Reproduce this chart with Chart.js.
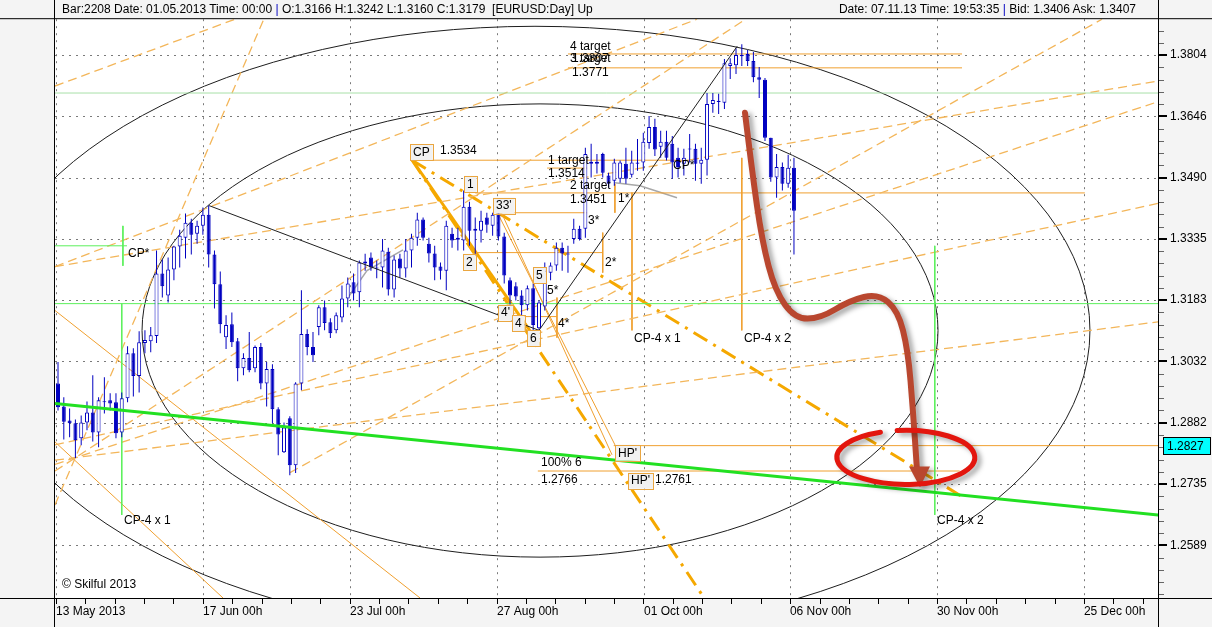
<!DOCTYPE html>
<html><head><meta charset="utf-8">
<script src="https://cdn.jsdelivr.net/npm/chart.js@4.4.1/dist/chart.umd.min.js"></script>
<style>
html,body{margin:0;padding:0;background:#f4f4f4;overflow:hidden}
#wrap{position:relative;width:1212px;height:627px}
canvas{position:absolute;left:0;top:0}
.t{position:absolute;font:12px "Liberation Sans",Arial,sans-serif;color:#000;white-space:nowrap;line-height:18px}
</style></head><body>
<div id="wrap">
<canvas id="c" width="1212" height="627"></canvas>
<div class="t" style="left:62px;top:0">Bar:2208 Date: 01.05.2013 Time: 00:00 <span style="color:#0000c0">|</span> O:1.3166 H:1.3242 L:1.3160 C:1.3179&nbsp;&nbsp;[EURUSD:Day] Up</div>
<div class="t" style="right:76px;top:0">Date: 07.11.13 Time: 19:53:35 <span style="color:#0000c0">|</span> Bid: 1.3406 Ask: 1.3407</div>
<div class="t" style="left:62px;top:575px">© Skilful 2013</div>
</div>
<script>
// ---------- data ----------
const xTickLabels = ['13 May 2013','17 Jun 00h','23 Jul 00h','27 Aug 00h','01 Oct 00h','06 Nov 00h','30 Nov 00h','25 Dec 00h'];
const xTickPos = [-0.35, 25.02, 50.39, 75.76, 101.12, 126.3, 151.67, 177.04];
const yTicks = [1.2589,1.2735,1.2882,1.3032,1.3183,1.3335,1.3490,1.3646,1.3804];

const open=[1.2978,1.2922,1.2888,1.2881,1.2845,1.2883,1.2907,1.2859,1.2934,1.2937,
1.2932,1.2859,1.2942,1.3052,1.2996,1.3077,1.3081,1.3094,1.3249,1.3194,
1.3259,1.3316,1.3338,1.3376,1.3348,1.3368,1.3396,1.3296,1.3222,1.3091,
1.3123,1.3081,1.3015,1.3040,1.3015,1.3067,1.2978,1.3013,1.2915,1.2811,
1.2893,1.2780,1.2978,1.3099,1.3067,1.3116,1.3165,1.3128,1.3108,1.3140,
1.3187,1.3227,1.3202,1.3279,1.3289,1.3264,1.3264,1.3303,1.3209,1.3286,
1.3261,1.3306,1.3338,1.3384,1.3323,1.3299,1.3266,1.3256,1.3348,1.3338,
1.3331,1.3416,1.3356,1.3356,1.3389,1.3368,1.3399,1.3341,1.3232,1.3217,
1.3194,1.3170,1.3212,1.3113,1.3167,1.3251,1.3269,1.3313,1.3299,1.3335,
1.3361,1.3361,1.3530,1.3530,1.3550,1.3495,1.3482,1.3487,1.3525,1.3497,
1.3528,1.3528,1.3578,1.3619,1.3568,1.3581,1.3576,1.3540,1.3525,1.3563,
1.3563,1.3525,1.3535,1.3678,1.3683,1.3681,1.3776,1.3778,1.3804,1.3807,
1.3789,1.3747,1.3740,1.3591,1.3490,1.3517,1.3474,1.3515];
const high=[1.3030,1.2944,1.2917,1.2890,1.2900,1.2934,1.2998,1.2944,1.2993,1.2954,
1.2954,1.2956,1.3069,1.3064,1.3106,1.3108,1.3116,1.3306,1.3284,1.3289,
1.3318,1.3358,1.3399,1.3386,1.3381,1.3414,1.3419,1.3306,1.3254,1.3145,
1.3152,1.3089,1.3052,1.3104,1.3071,1.3077,1.3030,1.3025,1.2920,1.2883,
1.2898,1.2981,1.3207,1.3111,1.3104,1.3170,1.3182,1.3138,1.3152,1.3219,
1.3239,1.3249,1.3281,1.3298,1.3301,1.3281,1.3335,1.3313,1.3294,1.3298,
1.3335,1.3348,1.3401,1.3389,1.3338,1.3318,1.3276,1.3381,1.3363,1.3363,
1.3457,1.3429,1.3389,1.3406,1.3401,1.3401,1.3401,1.3351,1.3239,1.3227,
1.3207,1.3219,1.3224,1.3182,1.3276,1.3276,1.3326,1.3326,1.3318,1.3386,
1.3368,1.3566,1.3576,1.3550,1.3553,1.3502,1.3538,1.3533,1.3566,1.3558,
1.3588,1.3604,1.3647,1.3640,1.3609,1.3609,1.3596,1.3566,1.3563,1.3601,
1.3576,1.3566,1.3706,1.3706,1.3704,1.3794,1.3796,1.3822,1.3832,1.3817,
1.3812,1.3773,1.3745,1.3591,1.3550,1.3528,1.3548,1.3540];
const low=[1.2912,1.2842,1.2847,1.2797,1.2828,1.2864,1.2837,1.2823,1.2905,1.2912,
1.2845,1.2847,1.2932,1.2946,1.2956,1.3052,1.3054,1.3077,1.3189,1.3177,
1.3232,1.3264,1.3286,1.3296,1.3323,1.3346,1.3264,1.3162,1.3101,1.3062,
1.3067,1.2983,1.2998,1.3005,1.3005,1.2964,1.2922,1.2881,1.2804,1.2809,
1.2756,1.2761,1.2961,1.3047,1.3030,1.3096,1.3108,1.3089,1.3101,1.3128,
1.3165,1.3182,1.3165,1.3256,1.3256,1.3237,1.3214,1.3194,1.3189,1.3239,
1.3239,1.3264,1.3318,1.3331,1.3276,1.3232,1.3234,1.3207,1.3313,1.3306,
1.3306,1.3318,1.3294,1.3326,1.3351,1.3343,1.3331,1.3224,1.3165,1.3182,
1.3140,1.3157,1.3108,1.3108,1.3157,1.3232,1.3256,1.3256,1.3251,1.3323,
1.3331,1.3338,1.3490,1.3500,1.3490,1.3464,1.3469,1.3477,1.3474,1.3490,
1.3507,1.3507,1.3563,1.3545,1.3540,1.3533,1.3487,1.3490,1.3495,1.3528,
1.3482,1.3474,1.3495,1.3655,1.3652,1.3665,1.3742,1.3755,1.3776,1.3776,
1.3734,1.3693,1.3583,1.3479,1.3439,1.3457,1.3464,1.3296];
const close=[1.2920,1.2885,1.2881,1.2840,1.2883,1.2907,1.2859,1.2937,1.2932,1.2929,
1.2857,1.2942,1.3052,1.2996,1.3079,1.3084,1.3096,1.3249,1.3217,1.3259,
1.3316,1.3343,1.3376,1.3346,1.3368,1.3396,1.3296,1.3222,1.3123,1.3121,
1.3079,1.3015,1.3040,1.3010,1.3067,1.2978,1.3013,1.2915,1.2854,1.2871,
1.2780,1.2978,1.3099,1.3067,1.3047,1.3165,1.3126,1.3101,1.3145,1.3187,
1.3224,1.3199,1.3276,1.3274,1.3264,1.3261,1.3306,1.3209,1.3284,1.3261,
1.3306,1.3338,1.3384,1.3338,1.3299,1.3264,1.3256,1.3368,1.3331,1.3333,
1.3416,1.3356,1.3361,1.3381,1.3371,1.3396,1.3341,1.3244,1.3194,1.3192,
1.3170,1.3212,1.3121,1.3177,1.3256,1.3269,1.3313,1.3299,1.3296,1.3361,
1.3335,1.3550,1.3525,1.3525,1.3502,1.3474,1.3528,1.3528,1.3487,1.3528,
1.3525,1.3581,1.3619,1.3561,1.3581,1.3540,1.3528,1.3517,1.3540,1.3561,
1.3525,1.3535,1.3678,1.3688,1.3686,1.3783,1.3783,1.3804,1.3801,1.3789,
1.3747,1.3740,1.3591,1.3490,1.3517,1.3474,1.3515,1.3406];

// drawing objects (x = bar number, y = price)
const cpLevel   = [{x:61.1,y:1.3534},{x:109.1,y:1.3534}];
const t1Level   = [{x:84.4,y:1.3514},{x:91.3,y:1.3514}];
const t2Level   = [{x:72.0,y:1.3451},{x:177.2,y:1.3451}];
const t3Level   = [{x:88.0,y:1.3771},{x:156.0,y:1.3771}];
const t4Level   = [{x:88.0,y:1.3807},{x:156.0,y:1.3807}];
const p33Level  = [{x:75.8,y:1.3401},{x:91.3,y:1.3401}];
const p2Level   = [{x:72.1,y:1.3301},{x:94.0,y:1.3301}];
const p4Level   = [{x:78.0,y:1.3142},{x:86.1,y:1.3142}];
const hpLevel   = [{x:95.9,y:1.2827},{x:189.9,y:1.2827}];
const p100Level = [{x:82.8,y:1.2766},{x:155.6,y:1.2766}];
const cp4x1V = [{x:99.05,y:1.3452},{x:99.05,y:1.3108}];
const cp4x2V = [{x:118.0,y:1.3540},{x:118.0,y:1.3108}];
const s1V = [{x:96.1,y:1.3474},{x:96.1,y:1.3401}];
const s2V = [{x:94.0,y:1.3351},{x:94.0,y:1.3251}];
const s4V = [{x:86.1,y:1.3189},{x:86.1,y:1.3090}];
const greenTrend = [{x:-0.52,y:1.2929},{x:189.9,y:1.2661}];
const greenLevel = [{x:-0.52,y:1.3174},{x:189.9,y:1.3174}];
const lightGreenLevel = [{x:-0.52,y:1.3706},{x:189.9,y:1.3706}];
const greenShort = [{x:-0.52,y:1.3318},{x:11.9,y:1.3318}];
const greenV1 = [{x:11.2,y:1.3368},{x:11.2,y:1.3268}];
const greenV2 = [{x:11.0,y:1.3174},{x:11.0,y:1.2661}];
const greenV3 = [{x:151.3,y:1.3318},{x:151.3,y:1.2661}];
const blackWave = [{x:26.06,y:1.3419},{x:83.0,y:1.3108},{x:117.2,y:1.3827}];
const grayArcA = [{x:50.04,y:1.3189},{x:53.32,y:1.3256},{x:59.53,y:1.3308}];
const grayArcB = [{x:96.12,y:1.3477},{x:100.43,y:1.3469},{x:106.82,y:1.3439}];
const cpFanA = [{x:61.1,y:1.3534},{x:156.2,y:1.2703}];
const cpFanB = [{x:61.1,y:1.3534},{x:111.5,y:1.2465}];
const cpTo6 = [{x:61.26,y:1.3532},{x:83.18,y:1.3071}];
const thinA = [{x:-0.52,y:1.3157},{x:62.47,y:1.2465}];
const thinB = [{x:-0.52,y:1.2836},{x:28.47,y:1.2465}];
const thinC = [{x:75.93,y:1.3398},{x:96.98,y:1.2805}];
const thinD = [{x:76.62,y:1.3398},{x:95.6,y:1.2805}];
const fan1 = [{x:-0.52,y:1.2792},{x:189.9,y:1.3129}];
const fan2 = [{x:-0.52,y:1.2782},{x:189.9,y:1.3684}];
const fan3 = [{x:-0.52,y:1.2766},{x:118.67,y:1.38975}];
const fan4 = [{x:-0.52,y:1.2685},{x:35.51,y:1.38975}];
const fan5 = [{x:-0.52,y:1.2829},{x:189.9,y:1.3425}];
const julyFan = [{x:40.03,y:1.2762},{x:180.16,y:1.38975}];
const dashA = [{x:-0.52,y:1.3266},{x:189.9,y:1.3737}];
const dashE = [{x:-0.52,y:1.3266},{x:110.27,y:1.38975}];
const dashD = [{x:-0.52,y:1.3724},{x:30.54,y:1.38975}];
const ellipses = [ // left bar, right bar, top price, bottom price
  {x0:14.5, x1:151.86, top:1.3678, bottom:1.2561},
  {x0:-13.46, x1:178.08, top:1.3879, bottom:1.2379}
];
const redRing = {x0:134.4, x1:158.2, top:1.2864, bottom:1.2734};
const arrowPath = [{x:118.55,y:1.3655},{x:119.76,y:1.3507},{x:121.48,y:1.3331},{x:123.73,y:1.3206},{x:127.18,y:1.3137},
  {x:131.49,y:1.3137},{x:136.67,y:1.3182},{x:141.5,y:1.3199},{x:144.95,y:1.3157},{x:146.68,y:1.3059},{x:147.54,y:1.2912},{x:148.23,y:1.2768}];
const arrowHead = [{x:146.85,y:1.2777},{x:148.75,y:1.2727},{x:150.47,y:1.2777}];
const boxLabels = [
  {x:61.26,y:1.3555,t:'CP'},{x:70.58,y:1.3474,t:'1'},{x:70.4,y:1.3278,t:'2'},{x:75.58,y:1.3419,t:"33'"},
  {x:82.49,y:1.3244,t:'5'},{x:76.45,y:1.3152,t:"4'"},{x:78.86,y:1.3125,t:'4'},{x:81.45,y:1.3088,t:'6'},
  {x:96.64,y:1.2810,t:"HP'"},{x:98.88,y:1.2743,t:"HP'"}
];
const textLabels = [
  {x:88.35,y:1.3827,t:'4 target'},{x:88.35,y:1.3794,t:'3 target'},{x:88.7,y:1.3794,t:'1.3807'},{x:88.7,y:1.3758,t:'1.3771'},
  {x:65.92,y:1.3558,t:'1.3534'},{x:84.56,y:1.3532,t:'1 target'},{x:84.56,y:1.3499,t:'1.3514'},
  {x:88.35,y:1.3469,t:'2 target'},{x:88.35,y:1.3434,t:'1.3451'},{x:96.64,y:1.3436,t:'1*'},{x:91.46,y:1.3381,t:'3*'},
  {x:94.39,y:1.3276,t:'2*'},{x:84.38,y:1.3206,t:'5*'},{x:86.28,y:1.3125,t:'4*'},
  {x:99.4,y:1.3088,t:'CP-4 x 1'},{x:118.38,y:1.3088,t:'CP-4 x 2'},{x:12.08,y:1.3298,t:'CP*'},{x:106.13,y:1.3520,t:'CP*'},
  {x:11.39,y:1.2648,t:'CP-4 x 1'},{x:151.68,y:1.2648,t:'CP-4 x 2'},
  {x:83.35,y:1.2786,t:'100% 6'},{x:83.35,y:1.2745,t:'1.2766'},{x:103.02,y:1.2745,t:'1.2761'}
];
const markerPrice = 1.2827;

// ---------- chart ----------
const idx = open.map((_, i) => i);
const BLUE = '#0000c0', OR = '#f0a030', DS = '#f3b65a';
function L(data, color, width, dash, order) {
  return {type:'line', data, borderColor:color, borderWidth:width, borderDash:dash||[], pointRadius:0,
          fill:false, tension:0, order:order===undefined?5:order};
}
const datasets = [
  {type:'bar', data: idx.map(i => ({x:i, y:[low[i], high[i]]})), backgroundColor:BLUE, borderWidth:0,
   maxBarThickness:1, grouped:false, order:1},
  {type:'bar', data: idx.map(i => ({x:i, y:[open[i], close[i]]})),
   backgroundColor: idx.map(i => close[i] >= open[i] ? '#ffffff' : BLUE), borderColor:BLUE, borderWidth:1,
   borderSkipped:false, maxBarThickness:4, grouped:false, minBarLength:1, order:0},
  L(lightGreenLevel,'#a8e0a8',1), L(greenLevel,'#5cf05c',1), L(greenShort,'#5cf05c',1),
  L(greenV1,'#5cf05c',1), L(greenV2,'#5cf05c',1), L(greenV3,'#5cf05c',1),
  L(fan1,DS,1.3,[9,5]), L(fan2,DS,1.3,[9,5]), L(fan3,DS,1.3,[9,5]), L(fan4,DS,1.3,[9,5]), L(fan5,DS,1.3,[9,5]),
  L(julyFan,DS,1.3,[9,5]), L(dashA,DS,1.3,[9,5]), L(dashE,DS,1.3,[9,5]), L(dashD,DS,1.3,[9,5]),
  L(thinA,OR,1), L(thinB,OR,1), L(thinC,OR,1), L(thinD,OR,1),
  L(cpLevel,OR,1), L(t1Level,OR,1), L(t2Level,OR,1), L(t3Level,OR,1), L(t4Level,OR,1),
  L(p33Level,OR,1), L(p2Level,OR,1), L(p4Level,OR,1), L(hpLevel,OR,1), L(p100Level,OR,1),
  L(cp4x1V,OR,1), L(cp4x2V,OR,1), L(s1V,OR,1), L(s2V,OR,1), L(s4V,OR,1),
  L(cpFanA,'#f5a800',3,[16,7,3,7]), L(cpFanB,'#f5a800',3,[16,7,3,7]), L(cpTo6,'#f5a800',3),
  L(grayArcA,'#a8a8a8',1.5), L(grayArcB,'#a8a8a8',1.5),
  L(blackWave,'#202020',1,[],-1),
  L(greenTrend,'#22e022',3,[],-2)
];

const overlay = {
  id:'overlay',
  beforeDraw(ch) {
    const {ctx, chartArea:a} = ch, xs = ch.scales.x, ys = ch.scales.y;
    ctx.save();
    ctx.fillStyle = '#f4f4f4'; ctx.fillRect(0,0,ch.width,ch.height);
    ctx.fillStyle = '#ffffff'; ctx.fillRect(a.left,a.top,a.right-a.left,a.bottom-a.top);
    ctx.strokeStyle = '#7a7a7a'; ctx.lineWidth = 1; ctx.setLineDash([2,5]);
    yTicks.forEach(v => { const y = Math.round(ys.getPixelForValue(v)) + 0.5;
      ctx.beginPath(); ctx.moveTo(a.left,y); ctx.lineTo(a.right,y); ctx.stroke(); });
    xTickPos.forEach(v => { const x = Math.round(xs.getPixelForValue(v)) + 0.5;
      ctx.beginPath(); ctx.moveTo(x,a.top); ctx.lineTo(x,a.bottom); ctx.stroke(); });
    ctx.restore();
  },
  beforeDatasetsDraw(ch) {
    const {ctx, chartArea:a} = ch, xs = ch.scales.x, ys = ch.scales.y;
    ctx.save();
    ctx.beginPath(); ctx.rect(a.left,a.top,a.right-a.left,a.bottom-a.top); ctx.clip();
    ctx.strokeStyle = '#1e1e1e'; ctx.lineWidth = 1;
    ellipses.forEach(e => {
      const l = xs.getPixelForValue(e.x0), r = xs.getPixelForValue(e.x1);
      const t = ys.getPixelForValue(e.top), b = ys.getPixelForValue(e.bottom);
      ctx.beginPath(); ctx.ellipse((l+r)/2,(t+b)/2,(r-l)/2,(b-t)/2,0,0,Math.PI*2); ctx.stroke();
    });
    ctx.restore();
  },
  afterDatasetsDraw(ch) {
    const {ctx, chartArea:a} = ch, xs = ch.scales.x, ys = ch.scales.y;
    const X = v => xs.getPixelForValue(v), Y = v => ys.getPixelForValue(v);
    ctx.save();
    ctx.beginPath(); ctx.rect(a.left,a.top,a.right-a.left,a.bottom-a.top); ctx.clip();
    ctx.font = '12px "Liberation Sans", Arial, sans-serif'; ctx.textBaseline = 'middle'; ctx.textAlign = 'left';
    textLabels.forEach(l => { ctx.fillStyle = '#000'; ctx.fillText(l.t, X(l.x), Y(l.y)); });
    boxLabels.forEach(l => {
      const x = X(l.x), y = Y(l.y), w = ctx.measureText(l.t).width;
      ctx.fillStyle = '#f1f1f1'; ctx.fillRect(x-3, y-8, w+6, 16);
      ctx.strokeStyle = '#eaa640'; ctx.lineWidth = 1; ctx.strokeRect(Math.round(x-3)+0.5, Math.round(y-8)+0.5, Math.round(w+6), 16);
      ctx.fillStyle = '#000'; ctx.fillText(l.t, x, y+0.5);
    });
    ctx.shadowColor = 'rgba(0,0,0,0.35)'; ctx.shadowBlur = 5; ctx.shadowOffsetX = 4; ctx.shadowOffsetY = 3;
    ctx.strokeStyle = '#b9472f'; ctx.lineWidth = 6; ctx.lineCap = 'round'; ctx.lineJoin = 'round';
    const pts = arrowPath.map(p => [X(p.x), Y(p.y)]);
    ctx.beginPath(); ctx.moveTo(pts[0][0], pts[0][1]);
    for (let i = 1; i < pts.length - 1; i++) {
      const mx = (pts[i][0]+pts[i+1][0])/2, my = (pts[i][1]+pts[i+1][1])/2;
      ctx.quadraticCurveTo(pts[i][0], pts[i][1], mx, my);
    }
    ctx.lineTo(pts[pts.length-1][0], pts[pts.length-1][1]); ctx.stroke();
    ctx.fillStyle = '#b9472f'; ctx.beginPath();
    arrowHead.forEach((p,i) => { const x = X(p.x), y = Y(p.y); i ? ctx.lineTo(x,y) : ctx.moveTo(x,y); });
    ctx.closePath(); ctx.fill();
    const l = X(redRing.x0), r = X(redRing.x1), t = Y(redRing.top), b = Y(redRing.bottom);
    ctx.strokeStyle = '#e3160e'; ctx.lineWidth = 5;
    ctx.beginPath(); ctx.ellipse((l+r)/2,(t+b)/2,(r-l)/2,(b-t)/2,0,Math.PI*1.46,Math.PI*1.38+Math.PI*2); ctx.stroke();
    ctx.restore();
  },
  afterDraw(ch) {
    const {ctx, chartArea:a} = ch, xs = ch.scales.x, ys = ch.scales.y;
    ctx.save();
    ctx.strokeStyle = '#000'; ctx.lineWidth = 1;
    ctx.beginPath();
    ctx.moveTo(0, a.top-0.5); ctx.lineTo(ch.width, a.top-0.5);
    ctx.moveTo(0, a.bottom+0.5); ctx.lineTo(ch.width, a.bottom+0.5);
    ctx.moveTo(a.left-0.5, 0); ctx.lineTo(a.left-0.5, ch.height);
    ctx.moveTo(a.right+0.5, 0); ctx.lineTo(a.right+0.5, ch.height);
    ctx.stroke();
    const yp = yTicks.map(v => ys.getPixelForValue(v));
    const ystep = (yp[0]-yp[yp.length-1]) / (yp.length-1) / 5;
    for (let y = yp[yp.length-1] - 5*ystep; y < a.bottom; y += ystep) {
      if (y < a.top) continue;
      const major = yp.some(p => Math.abs(p-y) < 0.5);
      ctx.fillStyle = major ? '#000' : '#666';
      ctx.fillRect(a.right+1, Math.round(y)-(major?1:0), major?8:5, major?2:1);
    }
    const xp = xTickPos.map(v => xs.getPixelForValue(v));
    const xstep = (xp[xp.length-1]-xp[0])/(xp.length-1)/5;
    ctx.fillStyle = '#000';
    for (let x = xp[0]; x < a.right; x += xstep) ctx.fillRect(Math.round(x), a.bottom+1, 1, 5);
    const my = ys.getPixelForValue(markerPrice);
    ctx.fillStyle = '#00ffff'; ctx.fillRect(a.right+5, Math.round(my)-9, 48, 18);
    ctx.strokeStyle = '#000'; ctx.strokeRect(a.right+5.5, Math.round(my)-8.5, 47, 17);
    ctx.fillStyle = '#000'; ctx.font = '12px "Liberation Sans", Arial, sans-serif';
    ctx.textBaseline = 'middle'; ctx.fillText(markerPrice.toFixed(4), a.right+9, Math.round(my)+0.5);
    ctx.restore();
  }
};

new Chart(document.getElementById('c'), {
  type:'bar',
  data:{datasets},
  options:{
    responsive:false, animation:false, devicePixelRatio:1,
    layout:{padding:{left:55, top:18, right:0, bottom:0}},
    plugins:{legend:{display:false}, tooltip:{enabled:false}},
    scales:{
      x:{type:'linear', position:'bottom', min:-0.52, max:189.82, offset:false, bounds:'data',
         grid:{display:false, drawTicks:false}, border:{display:false},
         afterBuildTicks: s => { s.ticks = xTickPos.map(v => ({value:v})); },
         afterFit: s => { s.height = 29; },
         ticks:{autoSkip:false, maxRotation:0, minRotation:0, align:'start', padding:6, color:'#000',
                font:{family:'"Liberation Sans", Arial, sans-serif', size:12},
                callback:(v,i) => xTickLabels[i]}},
      y:{type:'logarithmic', position:'right', min:1.24649, max:1.38975, bounds:'data',
         grid:{display:false, drawTicks:false}, border:{display:false},
         afterBuildTicks: s => { s.ticks = yTicks.map(v => ({value:v})); },
         afterFit: s => { s.width = 54; },
         ticks:{padding:12, color:'#000', font:{family:'"Liberation Sans", Arial, sans-serif', size:12},
                callback: v => Number(v).toFixed(4)}}
    }
  },
  plugins:[overlay]
});
</script>
</body></html>
